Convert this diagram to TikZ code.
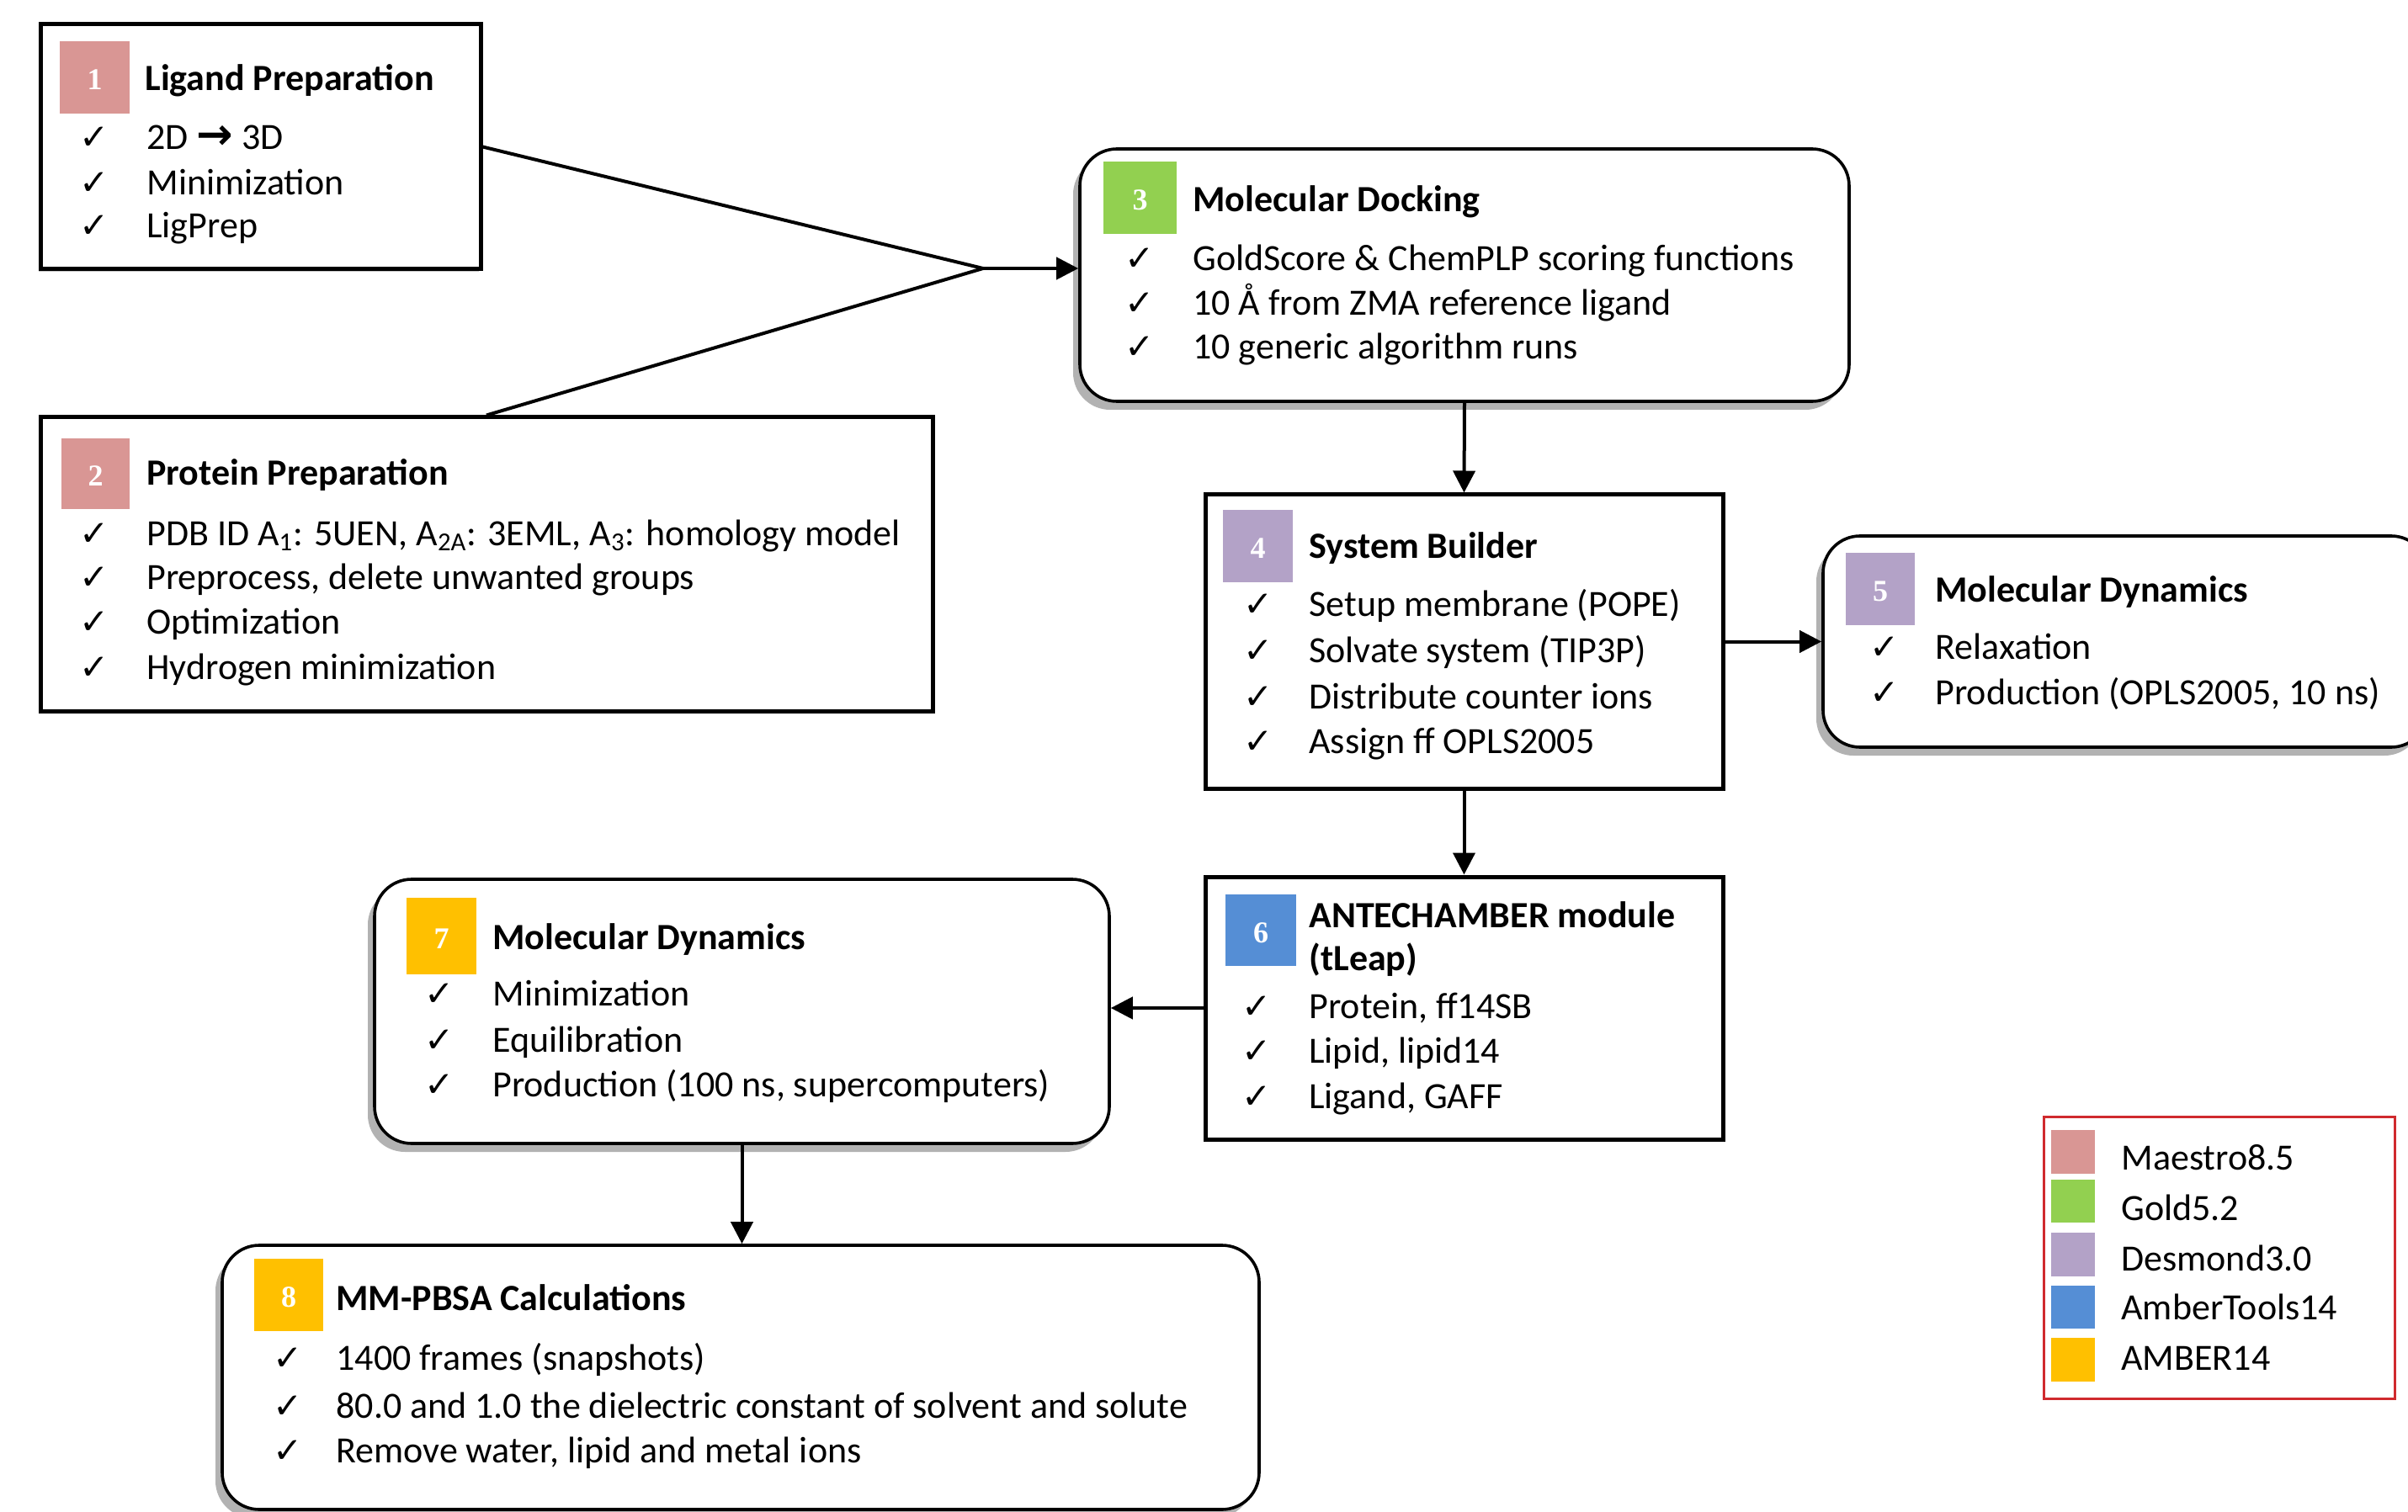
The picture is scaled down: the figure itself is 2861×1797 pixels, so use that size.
\documentclass[tikz,border=0pt]{standalone}
\usepackage{fontspec}
\setmainfont{Carlito}
\newfontfamily\dejavu{DejaVu Sans}
\newfontfamily\numfont{Liberation Serif}
\usetikzlibrary{fit,shadows,arrows.meta}
\definecolor{pinkc}{HTML}{D99694}
\definecolor{greenc}{HTML}{92D050}
\definecolor{purplec}{HTML}{B3A2C7}
\definecolor{bluec}{HTML}{558ED5}
\definecolor{goldc}{HTML}{FFC000}
\definecolor{legred}{HTML}{D02A2E}
\tikzset{
 sqbox/.style={draw=black, line width=2.5pt, fill=white, inner sep=0pt, drop shadow={shadow xshift=-1pt, shadow yshift=-1.5pt, fill=gray!40, opacity=1}},
 rbox/.style={draw=black, line width=1.8pt, fill=white, inner sep=0pt, rounded corners=22pt, drop shadow={shadow xshift=-4pt, shadow yshift=-5pt, fill=gray!60, opacity=1}},
 tag/.style={inner sep=0pt},
 tagnum/.style={inner sep=0pt, anchor=center, yshift=-1.5pt, text=white, font=\numfont\bfseries\fontsize{18}{18}\selectfont},
 ttl/.style={anchor=base west, inner sep=0pt, font=\bfseries\fontsize{22}{26}\selectfont},
 itm/.style={anchor=base west, inner sep=0pt, font=\fontsize{22}{26}\selectfont},
 chk/.style={anchor=base, inner sep=0pt, font=\dejavu\bfseries\fontsize{21}{21}\selectfont},
 conn/.style={line width=2pt},
 arr/.style={line width=2pt, -{Triangle[length=13pt,width=13pt]}},
 lgsq/.style={inner sep=0pt},
 lgtx/.style={anchor=base west, inner sep=0pt, font=\fontsize{22}{26}\selectfont},
 legbox/.style={draw=legred, line width=1.5pt, inner sep=0pt},
}
\begin{document}
\begin{tikzpicture}[x=0.5pt,y=-0.5pt]
\useasboundingbox (0,0) rectangle (2861,1797);
\clip (0,0) rectangle (2861,1797);
\fill[white] (0,0) rectangle (2861,1797);

% Box 1
\node[sqbox, fit={(48,29) (571,320)}] (b1) {};
\node[tag, fill=pinkc, fit={(71,49) (154,135)}] (t1) {};
\node[tagnum] (n1) at (t1.center) {1};
\node[ttl] (h1) at (172,108) {Ligand Preparation};
\node[chk] (c1a) at (112,178) {✓};
\node[itm] (i1a) at (174,178) {2D {\dejavu\bfseries\fontsize{26}{26}\selectfont →} 3D};
\node[chk] (c1b) at (112,232) {✓};
\node[itm] (i1b) at (174,232) {Minimization};
\node[chk] (c1c) at (112,283) {✓};
\node[itm] (i1c) at (174,283) {LigPrep};

% Box 2
\node[sqbox, fit={(48,496) (1108,845)}] (b2) {};
\node[tag, fill=pinkc, fit={(73,521) (154,605)}] (t2) {};
\node[tagnum] (n2) at (t2.center) {2};
\node[ttl] (h2) at (174,577) {Protein Preparation};
\node[chk] (c2a) at (112,648) {✓};
\node[itm] (i2a) at (174,648) {PDB ID A\textsubscript{1}: 5UEN, A\textsubscript{2A}: 3EML, A\textsubscript{3}: homology model};
\node[chk] (c2b) at (112,700) {✓};
\node[itm] (i2b) at (174,700) {Preprocess, delete unwanted groups};
\node[chk] (c2c) at (112,753) {✓};
\node[itm] (i2c) at (174,753) {Optimization};
\node[chk] (c2d) at (112,807) {✓};
\node[itm] (i2d) at (174,807) {Hydrogen minimization};

% Box 3
\node[rbox, fit={(1283,177) (2197,477)}] (b3) {};
\node[tag, fill=greenc, fit={(1311,192) (1398,278)}] (t3) {};
\node[tagnum] (n3) at (t3.center) {3};
\node[ttl] (h3) at (1417,252) {Molecular Docking};
\node[chk] (c3a) at (1354,322) {✓};
\node[itm] (i3a) at (1417,322) {GoldScore \& ChemPLP scoring functions};
\node[chk] (c3b) at (1354,375) {✓};
\node[itm] (i3b) at (1417,375) {10 Å from ZMA reference ligand};
\node[chk] (c3c) at (1354,427) {✓};
\node[itm] (i3c) at (1417,427) {10 generic algorithm runs};

% Box 4
\node[sqbox, fit={(1432,588) (2047,937)}] (b4) {};
\node[tag, fill=purplec, fit={(1453,606) (1536,692)}] (t4) {};
\node[tagnum] (n4) at (t4.center) {4};
\node[ttl] (h4) at (1555,663) {System Builder};
\node[chk] (c4a) at (1495,732) {✓};
\node[itm] (i4a) at (1555,732) {Setup membrane (POPE)};
\node[chk] (c4b) at (1495,787) {✓};
\node[itm] (i4b) at (1555,787) {Solvate system (TIP3P)};
\node[chk] (c4c) at (1495,842) {✓};
\node[itm] (i4c) at (1555,842) {Distribute counter ions};
\node[chk] (c4d) at (1495,895) {✓};
\node[itm] (i4d) at (1555,895) {Assign ff OPLS2005};

% Box 5
\node[rbox, fit={(2166,637) (2885,888)}] (b5) {};
\node[tag, fill=purplec, fit={(2193,657) (2275,743)}] (t5) {};
\node[tagnum] (n5) at (t5.center) {5};
\node[ttl] (h5) at (2299,715) {Molecular Dynamics};
\node[chk] (c5a) at (2239,783) {✓};
\node[itm] (i5a) at (2299,783) {Relaxation};
\node[chk] (c5b) at (2239,837) {✓};
\node[itm] (i5b) at (2299,837) {Production (OPLS2005, 10 ns)};

% Box 6
\node[sqbox, fit={(1432,1042) (2047,1354)}] (b6) {};
\node[tag, fill=bluec, fit={(1456,1063) (1540,1148)}] (t6) {};
\node[tagnum] (n6) at (t6.center) {6};
\node[ttl] (h6a) at (1555,1102) {ANTECHAMBER module};
\node[ttl] (h6b) at (1555,1153) {(tLeap)};
\node[chk] (c6a) at (1493,1210) {✓};
\node[itm] (i6a) at (1555,1210) {Protein, ff14SB};
\node[chk] (c6b) at (1493,1263) {✓};
\node[itm] (i6b) at (1555,1263) {Lipid, lipid14};
\node[chk] (c6c) at (1493,1317) {✓};
\node[itm] (i6c) at (1555,1317) {Ligand, GAFF};

% Box 7
\node[rbox, fit={(445,1045) (1318,1359)}] (b7) {};
\node[tag, fill=goldc, fit={(483,1067) (566,1158)}] (t7) {};
\node[tagnum] (n7) at (t7.center) {7};
\node[ttl] (h7) at (585,1128) {Molecular Dynamics};
\node[chk] (c7a) at (522,1195) {✓};
\node[itm] (i7a) at (585,1195) {Minimization};
\node[chk] (c7b) at (522,1250) {✓};
\node[itm] (i7b) at (585,1250) {Equilibration};
\node[chk] (c7c) at (522,1303) {✓};
\node[itm] (i7c) at (585,1303) {Production (100 ns, supercomputers)};

% Box 8
\node[rbox, fit={(264,1480) (1496,1794)}] (b8) {};
\node[tag, fill=goldc, fit={(302,1496) (384,1582)}] (t8) {};
\node[tagnum] (n8) at (t8.center) {8};
\node[ttl] (h8) at (399,1557) {MM-PBSA Calculations};
\node[chk] (c8a) at (342,1628) {✓};
\node[itm] (i8a) at (399,1628) {1400 frames (snapshots)};
\node[chk] (c8b) at (342,1685) {✓};
\node[itm] (i8b) at (399,1685) {80.0 and 1.0 the dielectric constant of solvent and solute};
\node[chk] (c8c) at (342,1738) {✓};
\node[itm] (i8c) at (399,1738) {Remove water, lipid and metal ions};

% Legend
\node[legbox, fit={(2428,1327) (2845,1662)}] (leg) {};
\node[lgsq, fill=pinkc, fit={(2437,1343) (2489,1395)}] (l1) {};
\node[lgtx] (lt1) at (2520,1390) {Maestro8.5};
\node[lgsq, fill=greenc, fit={(2437,1402) (2489,1453)}] (l2) {};
\node[lgtx] (lt2) at (2520,1450) {Gold5.2};
\node[lgsq, fill=purplec, fit={(2437,1465) (2489,1517)}] (l3) {};
\node[lgtx] (lt3) at (2520,1510) {Desmond3.0};
\node[lgsq, fill=bluec, fit={(2437,1528) (2489,1579)}] (l4) {};
\node[lgtx] (lt4) at (2520,1568) {AmberTools14};
\node[lgsq, fill=goldc, fit={(2437,1590) (2489,1642)}] (l5) {};
\node[lgtx] (lt5) at (2520,1628) {AMBER14};

% Connectors
\coordinate (j) at (1168,319);
\draw[conn] (b1.east) -- (j);
\draw[conn] (b2.north) -- (j);
\draw[arr] (j) -- (j -| b3.west);
\draw[arr] (b3.south) -- (b4.north);
\draw[arr] (b4.east) -- (b4.east -| b5.west);
\draw[arr] (b4.south) -- (b6.north);
\draw[arr] (b6.west) -- (b6.west -| b7.east);
\draw[arr] (b7.south) -- (b7.south |- b8.north);
\end{tikzpicture}
\end{document}
